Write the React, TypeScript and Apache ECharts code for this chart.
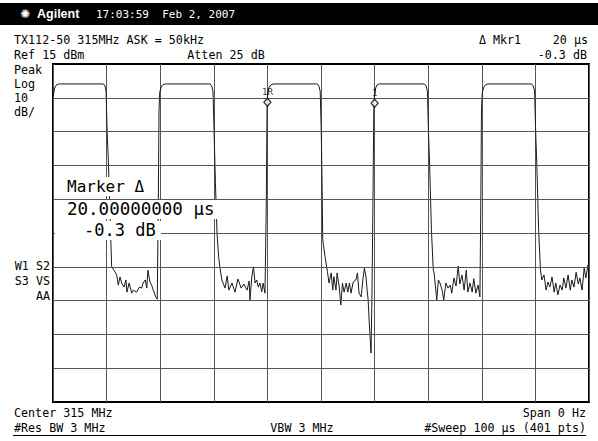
import React, { useEffect, useRef } from "react";
import * as echarts from "echarts";

// Instrument settings (from the screen annotations)
const refLevelDbm = 15;
const dbPerDiv = 10;
const divisions = 10;
const sweepUs = 100;
const sweepStepUs = 10;

// Horizontal graticule levels (dBm) between the top (ref) and the bottom
const graticuleLevels = [5, -5, -15, -25, -35, -45, -55, -65, -75];

// Zero-span trace: [time (µs), level (dBm)]
const trace: [number, number][] = [
  [0, 5.2], [0.3, 7.9], [0.7, 8.9], [1.2, 9.1], [9.4, 9.1], [9.7, 8.5], [9.9, 7.0], [10.1, -5], [10.32, -13.4], [10.55, -25], [10.78, -37], [10.95, -45.0],
  [11.57, -46.5], [11.88, -47.4], [12.18, -50.4], [12.5, -48.0], [12.8, -49.8], [13.25, -51.0], [13.6, -48.9], [13.8, -52.5], [14.2, -49.8], [14.7, -52.8], [15.0, -51.9], [15.6, -52.5], [16.1, -51.0], [16.55, -51.3], [16.8, -49.8], [17.2, -48.9], [17.5, -51.3], [17.7, -46.0], [18.1, -49.5], [18.4, -50.4], [18.7, -51.9], [19.2, -54.0], [19.45, -54.6],
  [19.65, -25.2], [19.78, 1.4], [19.92, 6.7], [20.2, 8.2], [20.5, 8.9], [21.0, 9.1],
  [29.3, 9.1], [29.6, 8.5], [29.85, 7.0], [30.05, -5], [30.3, -20], [30.6, -35], [30.9, -42], [31.16, -45.4],
  [31.5, -48.9], [32.1, -51.3], [32.5, -47.7], [32.8, -51.9], [33.4, -49.8], [33.95, -52.5], [34.5, -48.6], [35.1, -51.3], [35.6, -50.1], [36.2, -51.9], [36.6, -49.2], [36.75, -54.8], [37.1, -47.9], [37.4, -45.0], [37.7, -49.8], [38.0, -48.9], [38.3, -51.0], [38.6, -49.8], [38.95, -52.4], [39.2, -49.8], [39.55, -52.8],
  [39.8, -25.2], [39.93, 1.4], [40.08, 6.7], [40.35, 8.2], [40.7, 8.9], [41.2, 9.1],
  [49.3, 9.1], [49.6, 8.5], [49.85, 7.0], [50.05, -5], [50.2, -20], [50.32, -37], [50.75, -42], [51.2, -46.4],
  [51.5, -49.8], [51.9, -46.8], [52.2, -51.9], [52.4, -47.9], [52.8, -51.9], [53.0, -46.8], [53.4, -51.0], [53.7, -56.3], [54.0, -49.8], [54.3, -52.5], [54.7, -49.8], [55.0, -52.5], [55.3, -49.8], [55.6, -52.8], [56.0, -49.5], [56.5, -48.9], [56.8, -46.8], [57.1, -52.8], [57.5, -53.9], [57.8, -48.9], [58.1, -45.4], [58.4, -48.0], [58.6, -51.9], [58.8, -54.8], [59.0, -61.6], [59.2, -66.7], [59.33, -70.5],
  [59.5, -54.8], [59.7, -25.2], [59.85, 1.4], [59.98, 5.8], [60.2, 7.9], [60.45, 8.8], [60.8, 9.1],
  [69.3, 9.1], [69.6, 8.5], [69.85, 7.0], [70.05, -5], [70.25, -14], [70.6, -34], [70.95, -46.0],
  [71.1, -46.8], [71.6, -54.8], [71.9, -48.9], [72.2, -49.8], [72.6, -51.9], [72.9, -54.8], [73.3, -49.8], [73.7, -51.3], [74.1, -50.4], [74.4, -52.8], [74.8, -48.3], [75.2, -50.7], [75.6, -44.8], [75.9, -50.1], [76.3, -47.4], [76.7, -51.9], [77.1, -46.0], [77.4, -52.5], [77.8, -49.8], [78.2, -52.5], [78.5, -48.5], [78.9, -52.8], [79.3, -50.4], [79.65, -53.9],
  [79.82, -25.2], [79.94, 1.4], [80.1, 6.7], [80.4, 8.2], [80.7, 8.9], [81.2, 9.1],
  [89.3, 9.1], [89.6, 8.5], [89.85, 7.0], [90.05, -5], [90.25, -14], [90.6, -34], [90.95, -46.0],
  [91.2, -48.9], [91.6, -47.4], [92.0, -51.9], [92.35, -49.5], [92.7, -51.0], [93.1, -48.0], [93.5, -52.5], [93.8, -49.8], [94.2, -53.3], [94.6, -50.4], [95.0, -51.9], [95.3, -48.3], [95.7, -51.3], [96.1, -47.4], [96.5, -51.9], [96.8, -48.9], [97.2, -51.0], [97.6, -46.6], [98.0, -50.1], [98.3, -48.3], [98.7, -51.9], [99.1, -45.4], [99.4, -48.3], [99.8, -44.5], [100, -46.0],
];

// Markers
const markerTimes = [40, 60];
const markerLevels = [3.7, 3.4];
const markerLabels = ["1R", "1"];

// Screen annotations
const headerTime = "17:03:59  Feb 2, 2007";
const titleLine = "TX112-50 315MHz ASK = 50kHz";
const refLine = "Ref 15 dBm";
const attenLine = "Atten 25 dB";
const mkrTitle = "\u0394 Mkr1";
const mkrTime = "20 \u03bcs";
const mkrDelta = "-0.3 dB";
const scaleLabels = ["Peak", "Log", "10", "dB/"];
const statusLabels = ["W1 S2", "S3 VS", "AA"];
const markerBox = ["Marker \u0394", "20.00000000 \u03bcs", "-0.3 dB"];
const footerLeft = ["Center 315 MHz", "#Res BW 3 MHz"];
const footerMid = "VBW 3 MHz";
const footerRight = ["Span 0 Hz", "#Sweep 100 \u03bcs (401 pts)"];

const MONO = '"DejaVu Sans Mono", monospace';

function txt(text: string, x: number, y: number, size: number, align = "left", fill = "#000", family = MONO, weight = "normal") {
  return {
    type: "text",
    x,
    y,
    z: 100,
    silent: true,
    style: {
      text,
      fill,
      font: `${weight} ${size}px ${family}`,
      textAlign: align,
      textVerticalAlign: "middle",
    },
  };
}

export default function App() {
  const ref = useRef<HTMLDivElement>(null);
  useEffect(() => {
    if (!ref.current) return;
    const chart = echarts.init(ref.current, undefined, { renderer: "svg" });
    const bottom = refLevelDbm - dbPerDiv * divisions;
    const graphic: any[] = [
      { type: "rect", z: 90, silent: true, shape: { x: 0, y: 3, width: 598, height: 22 }, style: { fill: "#000" } },
      txt("\u273a", 20, 14, 12, "left", "#fff", '"DejaVu Sans", sans-serif'),
      txt("Agilent", 37, 14, 12.5, "left", "#fff", '"Liberation Sans", Arial, sans-serif', "bold"),
      txt(headerTime, 96, 14, 11, "left", "#fff"),
      txt(titleLine, 14, 40, 11.7),
      txt(refLine, 14, 55, 11.7),
      txt(attenLine, 226, 55, 11.7, "center"),
      txt(mkrTitle, 500, 40, 11.7, "center"),
      txt(mkrTime, 588, 40, 11.7, "right"),
      txt(mkrDelta, 587, 55, 11.7, "right"),
      ...scaleLabels.map((s, i) => txt(s, 14, 70 + i * 14, 11.7)),
      ...statusLabels.map((s, i) => txt(s, 50, 266 + i * 15, 11.7, "right")),
      { type: "rect", z: 95, silent: true, shape: { x: 55, y: 177, width: 98, height: 19 }, style: { fill: "#fff" } },
      { type: "rect", z: 95, silent: true, shape: { x: 55, y: 200, width: 166, height: 19 }, style: { fill: "#fff" } },
      { type: "rect", z: 95, silent: true, shape: { x: 55, y: 221, width: 106, height: 19 }, style: { fill: "#fff" } },
      txt(markerBox[0], 67, 186, 16),
      txt(markerBox[1], 67, 209, 17.5),
      txt(markerBox[2], 84, 230, 17),
      txt(footerLeft[0], 14, 413, 11.7),
      txt(footerLeft[1], 14, 428, 11.7),
      txt(footerMid, 302, 428, 11.7, "center"),
      txt(footerRight[0], 586, 413, 11.7, "right"),
      txt(footerRight[1], 586, 428, 11.7, "right"),
      { type: "line", z: 90, silent: true, shape: { x1: 13, y1: 435.5, x2: 586, y2: 435.5 }, style: { stroke: "#000", lineWidth: 1 } },
    ];
    chart.setOption({
      animation: false,
      backgroundColor: "#fff",
      grid: { left: 53, top: 64, width: 536, height: 338, show: true, borderColor: "#000", borderWidth: 2, backgroundColor: "transparent" },
      xAxis: {
        type: "value",
        min: 0,
        max: sweepUs,
        interval: sweepStepUs,
        axisLine: { show: false },
        axisTick: { show: false },
        axisLabel: { show: false },
        splitLine: { show: true, lineStyle: { color: "#555", width: 1 } },
      },
      yAxis: {
        type: "value",
        min: bottom,
        max: refLevelDbm,
        axisLine: { show: false },
        axisTick: { show: false },
        axisLabel: { show: false },
        splitLine: { show: false },
      },
      graphic,
      series: [
        {
          type: "line",
          data: trace,
          showSymbol: false,
          symbol: "none",
          lineStyle: { color: "#1a1a1a", width: 1 },
          z: 3,
          markLine: {
            silent: true,
            symbol: ["none", "none"],
            label: { show: false },
            lineStyle: { color: "#555", width: 1, type: "solid" },
            data: graticuleLevels.map((v) => ({ yAxis: v })),
          },
        },
        {
          type: "scatter",
          data: markerTimes.map((t, i) => [t, markerLevels[i]]),
          symbol: "diamond",
          symbolSize: [7, 8],
          z: 5,
          itemStyle: { color: "#fff", borderColor: "#000", borderWidth: 1.3 },
          label: {
            show: true,
            position: "top",
            distance: 1,
            fontSize: 9,
            fontFamily: MONO,
            color: "#000",
            formatter: (p: any) => markerLabels[p.dataIndex],
          },
        },
      ],
    });
    return () => chart.dispose();
  }, []);
  return <div ref={ref} style={{ position: "fixed", left: 0, top: 0, width: 598, height: 441, background: "#fff" }} />;
}
